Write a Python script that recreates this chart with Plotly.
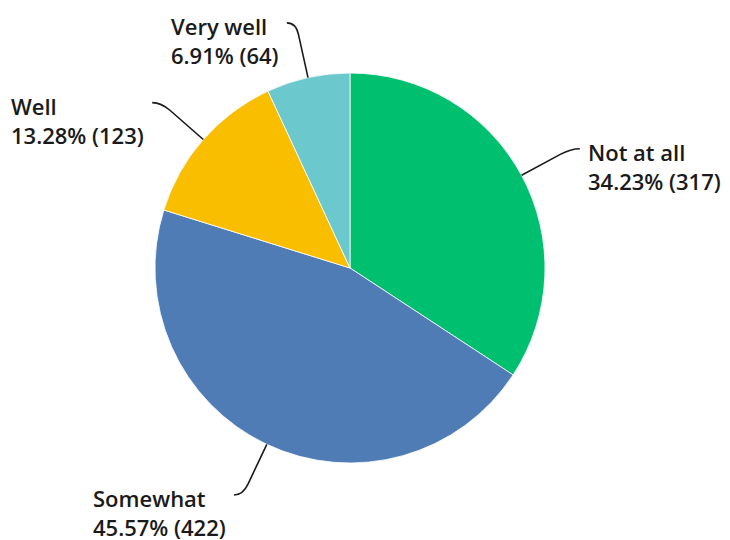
import math
import plotly.graph_objects as go

# Survey answers, in drawing order (clockwise from 12 o'clock)
labels = ["Not at all", "Somewhat", "Well", "Very well"]
counts = [317, 422, 123, 64]
percents = [34.23, 45.57, 13.28, 6.91]
colors = ["#00BF6F", "#507CB6", "#F9BE00", "#6BC8CD"]

W, H = 730, 540
CX, CY, R = 350, 268, 195        # pie centre and radius in pixels
LEAD = 56                         # radial length of each leader line
HOOK = 9                          # horizontal tail of each leader line
FONT = dict(family="Open Sans, Arial, sans-serif", size=22, color="#1a1a1a", weight=600)

fig = go.Figure()
fig.add_trace(go.Pie(
    labels=labels,
    values=counts,
    sort=False,
    direction="clockwise",
    rotation=0,
    marker=dict(colors=colors, line=dict(color="white", width=0.8)),
    textinfo="none",
    hoverinfo="label+percent+value",
    showlegend=False,
    domain=dict(x=[(CX - R) / W, (CX + R) / W],
                y=[(H - CY - R) / H, (H - CY + R) / H]),
))

shapes = []
annotations = []
total = sum(counts)
start = 0.0
for name, cnt, pct in zip(labels, counts, percents):
    sweep = 360.0 * cnt / total
    mid = math.radians(start + sweep / 2)
    start += sweep
    dx, dy = math.sin(mid), -math.cos(mid)
    # leader line: radial from the slice edge, bending into a short horizontal tail
    x0, y0 = CX + R * dx, CY + R * dy
    xb, yb = CX + (R + LEAD - 12) * dx, CY + (R + LEAD - 12) * dy
    xc, yc = CX + (R + LEAD) * dx, CY + (R + LEAD) * dy
    side = 1 if dx > 0 else -1
    xe, ye = xc + side * HOOK, yc
    shapes.append(dict(
        type="path", xref="x", yref="y",
        path=f"M {x0:.1f},{y0:.1f} L {xb:.1f},{yb:.1f} Q {xc:.1f},{yc:.1f} {xe:.1f},{ye:.1f}",
        line=dict(color="#1a1a1a", width=1.6),
    ))
    # two-line label: answer name, then percentage and count
    annotations.append(dict(
        text=f"{name}<br>{pct:.2f}% ({cnt})",
        xref="x", yref="y", x=xe + side * 7, y=ye, yshift=-18,
        xanchor="left" if side > 0 else "right", yanchor="middle",
        align="left", showarrow=False, font=FONT, borderpad=0,
    ))

fig.update_layout(
    width=W, height=H,
    margin=dict(l=0, r=0, t=0, b=0),
    paper_bgcolor="white", plot_bgcolor="white",
    xaxis=dict(range=[0, W], visible=False, fixedrange=True),
    yaxis=dict(range=[H, 0], visible=False, fixedrange=True),
    shapes=shapes,
    annotations=annotations,
)

fig.write_html("out.html")
